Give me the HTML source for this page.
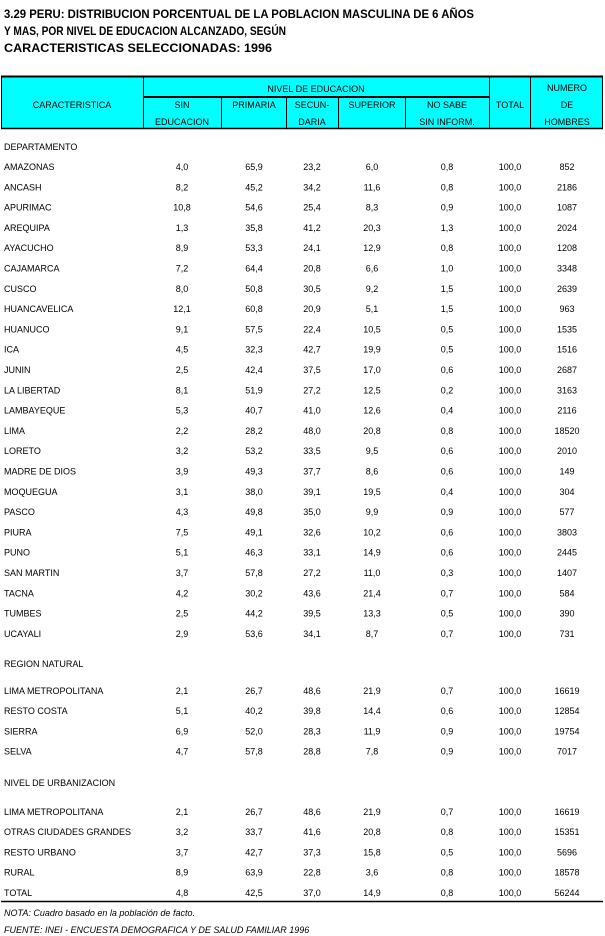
<!DOCTYPE html>
<html><head><meta charset="utf-8"><style>
html,body{margin:0;padding:0;background:#fff;width:605px;height:936px;overflow:hidden}
svg{display:block}
text{font-family:"Liberation Sans",Arial,sans-serif;font-size:9px;fill:#000}
.t{font-size:12px;font-weight:bold}
.c{text-anchor:middle}
.i{font-style:italic}
</style></head><body>
<svg width="605" height="936" viewBox="0 0 605 936">
<text class="t" x="4" y="18" textLength="470" lengthAdjust="spacingAndGlyphs">3.29  PERU: DISTRIBUCION PORCENTUAL DE LA POBLACION MASCULINA DE 6 AÑOS</text>
<text class="t" x="4" y="35" textLength="282" lengthAdjust="spacingAndGlyphs">Y MAS, POR NIVEL DE EDUCACION ALCANZADO, SEGÚN</text>
<text class="t" x="4" y="52" textLength="268" lengthAdjust="spacingAndGlyphs">CARACTERISTICAS SELECCIONADAS: 1996</text>
<rect x="1.5" y="76.5" width="601" height="52" fill="#00ffff" stroke="#000" stroke-width="1"/>
<line x1="1" y1="76.5" x2="603" y2="76.5" stroke="#000" stroke-width="2"/>
<line x1="1" y1="128.5" x2="603" y2="128.5" stroke="#000" stroke-width="1.5"/>
<line x1="143" y1="97" x2="489" y2="97" stroke="#000" stroke-width="2"/>
<g stroke="#000" stroke-width="1">
<line x1="143.5" y1="76" x2="143.5" y2="129"/>
<line x1="489.5" y1="76" x2="489.5" y2="129"/>
<line x1="530.5" y1="76" x2="530.5" y2="129"/>
<line x1="221.5" y1="97" x2="221.5" y2="129"/>
<line x1="286.5" y1="97" x2="286.5" y2="129"/>
<line x1="338.5" y1="97" x2="338.5" y2="129"/>
<line x1="405.5" y1="97" x2="405.5" y2="129"/>
</g>
<text class="c" x="72" y="108">CARACTERISTICA</text>
<text class="c" x="316" y="92">NIVEL DE EDUCACION</text>
<text class="c" x="182" y="108">SIN</text><text class="c" x="182" y="125">EDUCACION</text>
<text class="c" x="254" y="108">PRIMARIA</text>
<text class="c" x="312" y="108">SECUN-</text><text class="c" x="312" y="125">DARIA</text>
<text class="c" x="372" y="108">SUPERIOR</text>
<text class="c" x="447" y="108">NO SABE</text><text class="c" x="447" y="125">SIN INFORM.</text>
<text class="c" x="510" y="108">TOTAL</text>
<text class="c" x="567" y="91">NUMERO</text><text class="c" x="567" y="108">DE</text><text class="c" x="567" y="125">HOMBRES</text>

<text x="4" y="150">DEPARTAMENTO</text>
<g id="rows">
<g transform="translate(0,170)"><text x="4">AMAZONAS</text><text class="c" x="182">4,0</text><text class="c" x="254">65,9</text><text class="c" x="312">23,2</text><text class="c" x="372">6,0</text><text class="c" x="447">0,8</text><text class="c" x="510">100,0</text><text class="c" x="567">852</text></g>
<g transform="translate(0,190.3)"><text x="4">ANCASH</text><text class="c" x="182">8,2</text><text class="c" x="254">45,2</text><text class="c" x="312">34,2</text><text class="c" x="372">11,6</text><text class="c" x="447">0,8</text><text class="c" x="510">100,0</text><text class="c" x="567">2186</text></g>
<g transform="translate(0,210.6)"><text x="4">APURIMAC</text><text class="c" x="182">10,8</text><text class="c" x="254">54,6</text><text class="c" x="312">25,4</text><text class="c" x="372">8,3</text><text class="c" x="447">0,9</text><text class="c" x="510">100,0</text><text class="c" x="567">1087</text></g>
<g transform="translate(0,230.9)"><text x="4">AREQUIPA</text><text class="c" x="182">1,3</text><text class="c" x="254">35,8</text><text class="c" x="312">41,2</text><text class="c" x="372">20,3</text><text class="c" x="447">1,3</text><text class="c" x="510">100,0</text><text class="c" x="567">2024</text></g>
<g transform="translate(0,251.2)"><text x="4">AYACUCHO</text><text class="c" x="182">8,9</text><text class="c" x="254">53,3</text><text class="c" x="312">24,1</text><text class="c" x="372">12,9</text><text class="c" x="447">0,8</text><text class="c" x="510">100,0</text><text class="c" x="567">1208</text></g>
<g transform="translate(0,271.5)"><text x="4">CAJAMARCA</text><text class="c" x="182">7,2</text><text class="c" x="254">64,4</text><text class="c" x="312">20,8</text><text class="c" x="372">6,6</text><text class="c" x="447">1,0</text><text class="c" x="510">100,0</text><text class="c" x="567">3348</text></g>
<g transform="translate(0,291.8)"><text x="4">CUSCO</text><text class="c" x="182">8,0</text><text class="c" x="254">50,8</text><text class="c" x="312">30,5</text><text class="c" x="372">9,2</text><text class="c" x="447">1,5</text><text class="c" x="510">100,0</text><text class="c" x="567">2639</text></g>
<g transform="translate(0,312.1)"><text x="4">HUANCAVELICA</text><text class="c" x="182">12,1</text><text class="c" x="254">60,8</text><text class="c" x="312">20,9</text><text class="c" x="372">5,1</text><text class="c" x="447">1,5</text><text class="c" x="510">100,0</text><text class="c" x="567">963</text></g>
<g transform="translate(0,332.4)"><text x="4">HUANUCO</text><text class="c" x="182">9,1</text><text class="c" x="254">57,5</text><text class="c" x="312">22,4</text><text class="c" x="372">10,5</text><text class="c" x="447">0,5</text><text class="c" x="510">100,0</text><text class="c" x="567">1535</text></g>
<g transform="translate(0,352.7)"><text x="4">ICA</text><text class="c" x="182">4,5</text><text class="c" x="254">32,3</text><text class="c" x="312">42,7</text><text class="c" x="372">19,9</text><text class="c" x="447">0,5</text><text class="c" x="510">100,0</text><text class="c" x="567">1516</text></g>
<g transform="translate(0,373)"><text x="4">JUNIN</text><text class="c" x="182">2,5</text><text class="c" x="254">42,4</text><text class="c" x="312">37,5</text><text class="c" x="372">17,0</text><text class="c" x="447">0,6</text><text class="c" x="510">100,0</text><text class="c" x="567">2687</text></g>
<g transform="translate(0,393.3)"><text x="4">LA LIBERTAD</text><text class="c" x="182">8,1</text><text class="c" x="254">51,9</text><text class="c" x="312">27,2</text><text class="c" x="372">12,5</text><text class="c" x="447">0,2</text><text class="c" x="510">100,0</text><text class="c" x="567">3163</text></g>
<g transform="translate(0,413.6)"><text x="4">LAMBAYEQUE</text><text class="c" x="182">5,3</text><text class="c" x="254">40,7</text><text class="c" x="312">41,0</text><text class="c" x="372">12,6</text><text class="c" x="447">0,4</text><text class="c" x="510">100,0</text><text class="c" x="567">2116</text></g>
<g transform="translate(0,433.9)"><text x="4">LIMA</text><text class="c" x="182">2,2</text><text class="c" x="254">28,2</text><text class="c" x="312">48,0</text><text class="c" x="372">20,8</text><text class="c" x="447">0,8</text><text class="c" x="510">100,0</text><text class="c" x="567">18520</text></g>
<g transform="translate(0,454.2)"><text x="4">LORETO</text><text class="c" x="182">3,2</text><text class="c" x="254">53,2</text><text class="c" x="312">33,5</text><text class="c" x="372">9,5</text><text class="c" x="447">0,6</text><text class="c" x="510">100,0</text><text class="c" x="567">2010</text></g>
<g transform="translate(0,474.5)"><text x="4">MADRE DE DIOS</text><text class="c" x="182">3,9</text><text class="c" x="254">49,3</text><text class="c" x="312">37,7</text><text class="c" x="372">8,6</text><text class="c" x="447">0,6</text><text class="c" x="510">100,0</text><text class="c" x="567">149</text></g>
<g transform="translate(0,494.8)"><text x="4">MOQUEGUA</text><text class="c" x="182">3,1</text><text class="c" x="254">38,0</text><text class="c" x="312">39,1</text><text class="c" x="372">19,5</text><text class="c" x="447">0,4</text><text class="c" x="510">100,0</text><text class="c" x="567">304</text></g>
<g transform="translate(0,515.1)"><text x="4">PASCO</text><text class="c" x="182">4,3</text><text class="c" x="254">49,8</text><text class="c" x="312">35,0</text><text class="c" x="372">9,9</text><text class="c" x="447">0,9</text><text class="c" x="510">100,0</text><text class="c" x="567">577</text></g>
<g transform="translate(0,535.4)"><text x="4">PIURA</text><text class="c" x="182">7,5</text><text class="c" x="254">49,1</text><text class="c" x="312">32,6</text><text class="c" x="372">10,2</text><text class="c" x="447">0,6</text><text class="c" x="510">100,0</text><text class="c" x="567">3803</text></g>
<g transform="translate(0,555.7)"><text x="4">PUNO</text><text class="c" x="182">5,1</text><text class="c" x="254">46,3</text><text class="c" x="312">33,1</text><text class="c" x="372">14,9</text><text class="c" x="447">0,6</text><text class="c" x="510">100,0</text><text class="c" x="567">2445</text></g>
<g transform="translate(0,576)"><text x="4">SAN MARTIN</text><text class="c" x="182">3,7</text><text class="c" x="254">57,8</text><text class="c" x="312">27,2</text><text class="c" x="372">11,0</text><text class="c" x="447">0,3</text><text class="c" x="510">100,0</text><text class="c" x="567">1407</text></g>
<g transform="translate(0,596.3)"><text x="4">TACNA</text><text class="c" x="182">4,2</text><text class="c" x="254">30,2</text><text class="c" x="312">43,6</text><text class="c" x="372">21,4</text><text class="c" x="447">0,7</text><text class="c" x="510">100,0</text><text class="c" x="567">584</text></g>
<g transform="translate(0,616.6)"><text x="4">TUMBES</text><text class="c" x="182">2,5</text><text class="c" x="254">44,2</text><text class="c" x="312">39,5</text><text class="c" x="372">13,3</text><text class="c" x="447">0,5</text><text class="c" x="510">100,0</text><text class="c" x="567">390</text></g>
<g transform="translate(0,636.9)"><text x="4">UCAYALI</text><text class="c" x="182">2,9</text><text class="c" x="254">53,6</text><text class="c" x="312">34,1</text><text class="c" x="372">8,7</text><text class="c" x="447">0,7</text><text class="c" x="510">100,0</text><text class="c" x="567">731</text></g>

<text x="4" y="667">REGION NATURAL</text>
<g transform="translate(0,694)"><text x="4">LIMA METROPOLITANA</text><text class="c" x="182">2,1</text><text class="c" x="254">26,7</text><text class="c" x="312">48,6</text><text class="c" x="372">21,9</text><text class="c" x="447">0,7</text><text class="c" x="510">100,0</text><text class="c" x="567">16619</text></g>
<g transform="translate(0,714.2)"><text x="4">RESTO COSTA</text><text class="c" x="182">5,1</text><text class="c" x="254">40,2</text><text class="c" x="312">39,8</text><text class="c" x="372">14,4</text><text class="c" x="447">0,6</text><text class="c" x="510">100,0</text><text class="c" x="567">12854</text></g>
<g transform="translate(0,734.4)"><text x="4">SIERRA</text><text class="c" x="182">6,9</text><text class="c" x="254">52,0</text><text class="c" x="312">28,3</text><text class="c" x="372">11,9</text><text class="c" x="447">0,9</text><text class="c" x="510">100,0</text><text class="c" x="567">19754</text></g>
<g transform="translate(0,754.6)"><text x="4">SELVA</text><text class="c" x="182">4,7</text><text class="c" x="254">57,8</text><text class="c" x="312">28,8</text><text class="c" x="372">7,8</text><text class="c" x="447">0,9</text><text class="c" x="510">100,0</text><text class="c" x="567">7017</text></g>

<text x="4" y="786">NIVEL DE URBANIZACION</text>
<g transform="translate(0,815)"><text x="4">LIMA METROPOLITANA</text><text class="c" x="182">2,1</text><text class="c" x="254">26,7</text><text class="c" x="312">48,6</text><text class="c" x="372">21,9</text><text class="c" x="447">0,7</text><text class="c" x="510">100,0</text><text class="c" x="567">16619</text></g>
<g transform="translate(0,835.2)"><text x="4">OTRAS CIUDADES GRANDES</text><text class="c" x="182">3,2</text><text class="c" x="254">33,7</text><text class="c" x="312">41,6</text><text class="c" x="372">20,8</text><text class="c" x="447">0,8</text><text class="c" x="510">100,0</text><text class="c" x="567">15351</text></g>
<g transform="translate(0,855.4)"><text x="4">RESTO URBANO</text><text class="c" x="182">3,7</text><text class="c" x="254">42,7</text><text class="c" x="312">37,3</text><text class="c" x="372">15,8</text><text class="c" x="447">0,5</text><text class="c" x="510">100,0</text><text class="c" x="567">5696</text></g>
<g transform="translate(0,875.6)"><text x="4">RURAL</text><text class="c" x="182">8,9</text><text class="c" x="254">63,9</text><text class="c" x="312">22,8</text><text class="c" x="372">3,6</text><text class="c" x="447">0,8</text><text class="c" x="510">100,0</text><text class="c" x="567">18578</text></g>
<g transform="translate(0,896)"><text x="4">TOTAL</text><text class="c" x="182">4,8</text><text class="c" x="254">42,5</text><text class="c" x="312">37,0</text><text class="c" x="372">14,9</text><text class="c" x="447">0,8</text><text class="c" x="510">100,0</text><text class="c" x="567">56244</text></g>
</g>
<line x1="1" y1="901.5" x2="603" y2="901.5" stroke="#000" stroke-width="1.5"/>
<text class="i" x="4" y="916">NOTA: Cuadro basado en la población de facto.</text>
<text class="i" x="4" y="933">FUENTE: INEI - ENCUESTA DEMOGRAFICA Y DE SALUD FAMILIAR 1996</text>
</svg>
</body></html>
